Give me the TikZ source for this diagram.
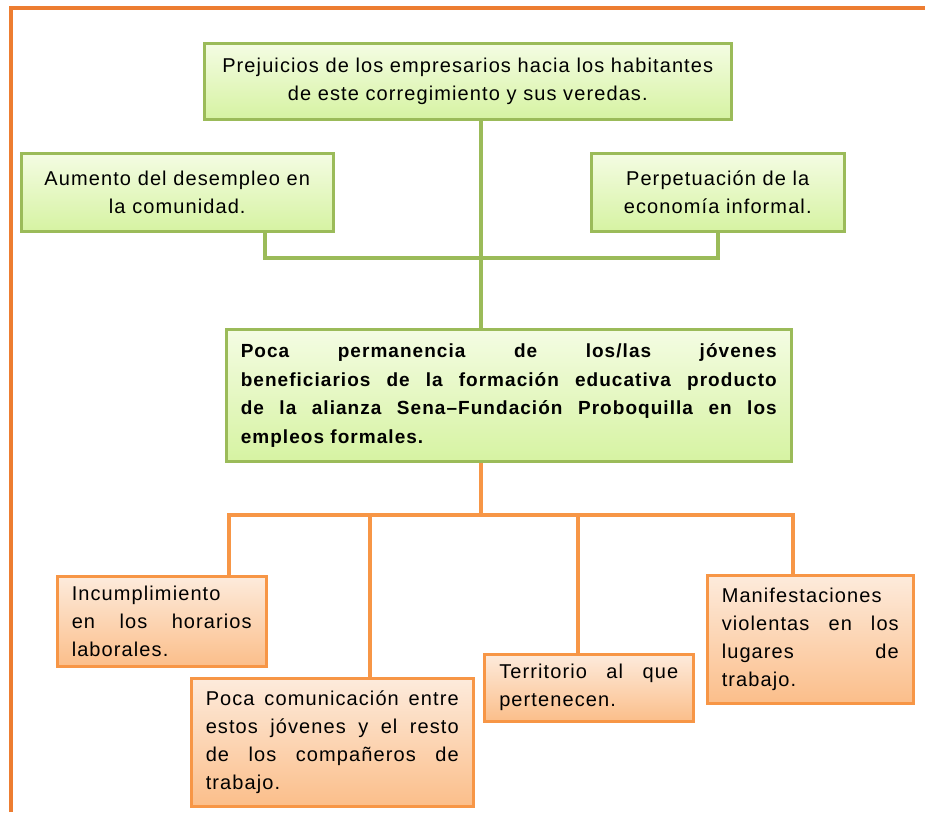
\documentclass[tikz,border=0pt]{standalone}
\usepackage{fontspec}
\setmainfont{Liberation Sans}[LetterSpace=5.5]
\definecolor{gborder}{HTML}{9BBB59}
\definecolor{gtop}{HTML}{F4FCE3}
\definecolor{gbot}{HTML}{D6F3A2}
\definecolor{oborder}{HTML}{F79646}
\definecolor{otop}{HTML}{FDEBDC}
\definecolor{obot}{HTML}{FBBE8A}
\definecolor{frame}{HTML}{ED7D31}
\tikzset{
  gbox/.style={draw=gborder, line width=2.5pt, top color=gtop, bottom color=gbot, rectangle, anchor=north west, inner sep=0pt, font=\fontsize{20}{28}\selectfont},
  obox/.style={draw=oborder, line width=2.5pt, top color=otop, bottom color=obot, rectangle, anchor=north west, inner sep=0pt, font=\fontsize{20}{28}\selectfont, align=left},
  gline/.style={draw=gborder, line width=4pt},
  oline/.style={draw=oborder, line width=4pt},
}
\begin{document}
\begin{tikzpicture}[x=1pt,y=-1pt]
\useasboundingbox (0,0) rectangle (925,812);
\fill[white] (0,0) rectangle (925,812);
\draw[frame, line width=4.5pt] (11,812) -- (11,8) -- (925,8);

% green boxes
\node[gbox, minimum width=527pt, minimum height=76pt, text width=515pt, align=center] (tb) at (203,42)
  {Prejuicios de los empresarios hacia los habitantes\\de este corregimiento y sus veredas.};
\node[gbox, minimum width=312pt, minimum height=78pt, text width=300pt, align=center] (lb) at (20,152)
  {Aumento del desempleo en\\la comunidad.};
\node[gbox, minimum width=253pt, minimum height=78pt, text width=245pt, align=center] (rb) at (590,152)
  {Perpetuación de la\\economía informal.};
\node[gbox, minimum width=565pt, minimum height=132pt, text width=536pt, align=left, font=\fontsize{19}{28.5}\selectfont\bfseries] (mb) at (225,328)
  {Poca\hfill permanencia\hfill de\hfill los/las\hfill jóvenes\\
   beneficiarios\hfill de\hfill la\hfill formación\hfill educativa\hfill producto\\
   de\hfill la\hfill alianza\hfill Sena–Fundación\hfill Proboquilla\hfill en\hfill los\\
   empleos formales.};

% orange boxes
\node[obox, minimum width=209pt, minimum height=90pt, text width=180pt] (b1) at (56,575)
  {Incumplimiento\\en\hfill los\hfill horarios\\laborales.};
\node[obox, minimum width=282pt, minimum height=128pt, text width=253pt] (b2) at (190,677)
  {Poca\hfill comunicación\hfill entre\\estos\hfill jóvenes\hfill y\hfill el\hfill resto\\de\hfill los\hfill compañeros\hfill de\\trabajo.};
\node[obox, minimum width=209pt, minimum height=67pt, text width=179pt] (b3) at (483,653)
  {Territorio\hfill al\hfill que\\pertenecen.};
\node[obox, minimum width=206pt, minimum height=128pt, text width=177pt] (b4) at (706,574)
  {Manifestaciones\\violentas\hfill en\hfill los\\lugares\hfill de\\trabajo.};

% green connectors
\draw[gline] (481,0 |- tb.south) -- (481,0 |- mb.north);
\draw[gline] (265,0 |- lb.south) -- (265,258) -- (718,258) -- (718,0 |- rb.south);

% orange connectors
\coordinate (oj) at (481,515);
\draw[oline] (481,0 |- mb.south) -- (oj);
\draw[oline] (229,0 |- b1.north) -- (229,515) -- (793,515) -- (793,0 |- b4.north);
\draw[oline] (370,515) -- (370,0 |- b2.north);
\draw[oline] (578,515) -- (578,0 |- b3.north);
\end{tikzpicture}
\end{document}
